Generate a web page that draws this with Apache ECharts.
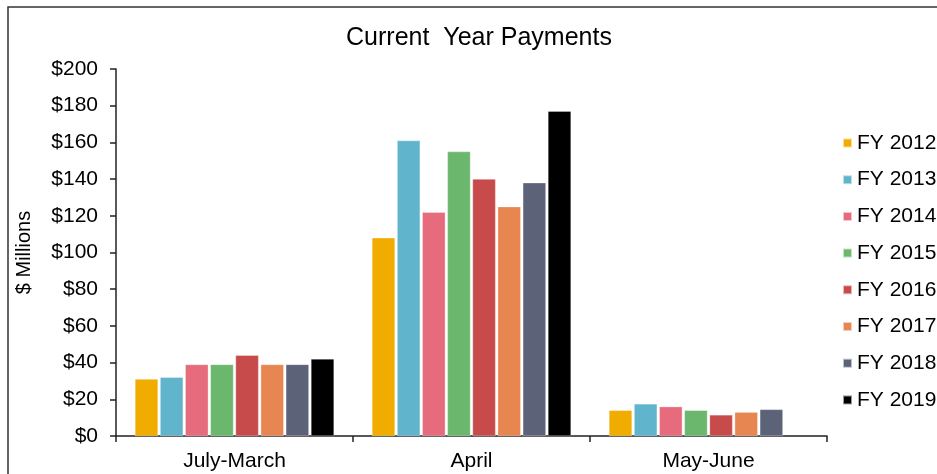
<!DOCTYPE html>
<html>
<head>
<meta charset="utf-8">
<script src="https://cdn.jsdelivr.net/npm/echarts@6/dist/echarts.min.js"></script>
<style>
html,body{margin:0;padding:0;background:#fff;overflow:hidden;}
#c{width:937px;height:474px;}
</style>
</head>
<body>
<div id="c"></div>
<script>
const categories = ['July-March', 'April', 'May-June'];
const seriesNames = ['FY 2012', 'FY 2013', 'FY 2014', 'FY 2015', 'FY 2016', 'FY 2017', 'FY 2018', 'FY 2019'];
const fy2012 = [31, 108, 14];
const fy2013 = [32, 161, 17.5];
const fy2014 = [39, 122, 16];
const fy2015 = [39, 155, 14];
const fy2016 = [44, 140, 11.5];
const fy2017 = [39, 125, 13];
const fy2018 = [39, 138, 14.5];
const fy2019 = [42, 177, null];
const seriesValues = [fy2012, fy2013, fy2014, fy2015, fy2016, fy2017, fy2018, fy2019];
const colors = ['#F0AD00', '#60B5CC', '#E66C7D', '#6BB76D', '#C84B4B', '#E88651', '#5C6378', '#000000'];
const yTicks = { min: 0, max: 200, interval: 20 };

const chart = echarts.init(document.getElementById('c'));
const font = 'Liberation Sans, Arial, sans-serif';
chart.setOption({
  animation: false,
  color: colors,
  title: {
    text: 'Current  Year Payments',
    left: 474, top: 21, textAlign: 'center',
    textStyle: { fontFamily: font, fontSize: 25, fontWeight: 'normal', color: '#000' }
  },
  graphic: [{
    type: 'rect', silent: true, z: -1,
    shape: { x: 8, y: 7, width: 1200, height: 1200 },
    style: { fill: 'none', stroke: '#333', lineWidth: 1.5 }
  }],
  legend: {
    orient: 'vertical',
    left: 837, top: 127,
    itemWidth: 9, itemHeight: 9, itemGap: 14.7,
    icon: 'rect',
    textStyle: { fontFamily: font, fontSize: 21, lineHeight: 22, color: '#000' },
    data: seriesNames
  },
  grid: { left: 116, right: 110, top: 69, bottom: 38 },
  xAxis: {
    type: 'category',
    data: categories,
    axisLine: { lineStyle: { color: '#222', width: 1.5 } },
    axisTick: { show: true, length: 6, lineStyle: { color: '#222', width: 1.5 } },
    axisLabel: { fontFamily: font, fontSize: 21, color: '#000', margin: 15 }
  },
  yAxis: {
    type: 'value',
    min: yTicks.min, max: yTicks.max, interval: yTicks.interval,
    name: '$ Millions',
    nameLocation: 'middle',
    nameGap: 82,
    nameTextStyle: { fontFamily: font, fontSize: 20, color: '#000' },
    axisLine: { show: true, lineStyle: { color: '#222', width: 1.5 } },
    axisTick: { show: true, length: 6, lineStyle: { color: '#222', width: 1.5 } },
    splitLine: { show: false },
    axisLabel: { fontFamily: font, fontSize: 21, color: '#000', margin: 18, formatter: v => '$' + v }
  },
  series: seriesNames.map((n, i) => ({
    name: n,
    type: 'bar',
    data: seriesValues[i],
    barGap: '9%',
    barCategoryGap: '16%',
    itemStyle: { color: colors[i], borderColor: 'rgba(255,255,255,0.6)', borderWidth: 0.5 }
  }))
});
</script>
</body>
</html>
